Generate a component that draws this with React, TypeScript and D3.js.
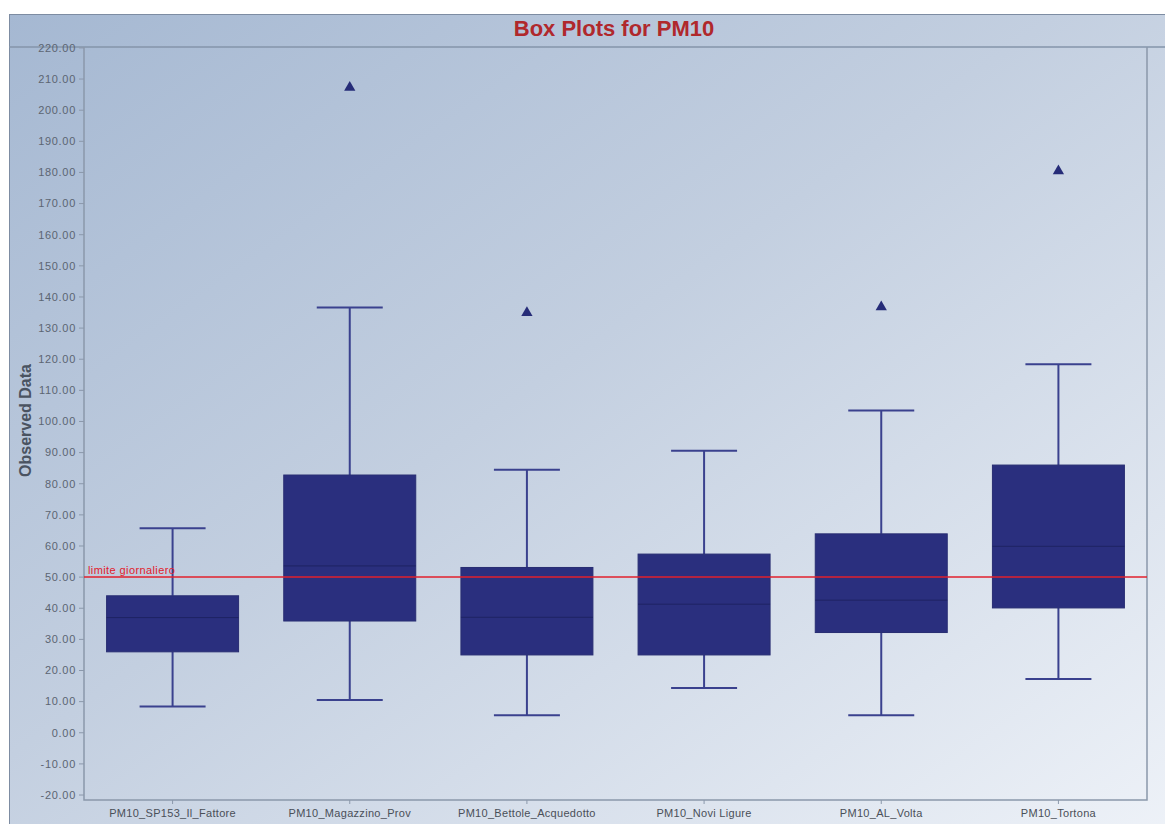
import React from "react";
import * as d3 from "d3";

const categories = [
  "PM10_SP153_Il_Fattore",
  "PM10_Magazzino_Prov",
  "PM10_Bettole_Acquedotto",
  "PM10_Novi Ligure",
  "PM10_AL_Volta",
  "PM10_Tortona",
];
const whiskerLow = [8.4, 10.5, 5.6, 14.4, 5.6, 17.3];
const q1 = [26.0, 35.9, 25.0, 25.0, 32.2, 40.1];
const median = [37.0, 53.6, 37.1, 41.3, 42.6, 59.9];
const q3 = [44.0, 82.8, 53.1, 57.4, 63.9, 86.0];
const whiskerHigh = [65.7, 136.6, 84.5, 90.6, 103.5, 118.4];
const outliers: (number | null)[] = [null, 207.3, 134.9, null, 136.8, 180.5];
const yTicks = d3.range(-20, 221, 10);
const limitValue = 50;
const limitLabel = "limite giornaliero";

const W = 1165;
const H = 824;
const plot = { left: 84, top: 47, right: 1147, bottom: 800 };

export default function App() {
  const x = d3
    .scaleBand<string>()
    .domain(categories)
    .range([plot.left, plot.right])
    .paddingInner(0)
    .paddingOuter(0);
  const y = d3.scaleLinear().domain([-21.6, 220.3]).range([plot.bottom, plot.top]);
  const bw = x.bandwidth();
  const boxW = bw * 0.745;
  const capW = boxW * 0.5;
  const tri = d3.symbol().type(d3.symbolTriangle).size(55);

  return (
    <svg
      width={W}
      height={H}
      style={{ position: "absolute", left: 0, top: 0, display: "block" }}
      fontFamily="Arial, 'Liberation Sans', sans-serif"
    >
      <defs>
        <linearGradient id="bg" x1="0" y1="0" x2="1" y2="1">
          <stop offset="0" stopColor="#a5b8d2" />
          <stop offset="0.45" stopColor="#c3cfe0" />
          <stop offset="1" stopColor="#eef2f8" />
        </linearGradient>
      </defs>
      <rect x={0} y={0} width={W} height={H} fill="#ffffff" />
      <rect x={9.5} y={14.5} width={W} height={H} fill="url(#bg)" stroke="#7d8ca2" strokeWidth={1} />
      <line x1={9} x2={W} y1={47} y2={47} stroke="#8494aa" strokeWidth={1.5} />
      <text
        x={614}
        y={36}
        textAnchor="middle"
        fontSize={22}
        fontWeight="bold"
        fill="#b0282c"
      >
        Box Plots for PM10
      </text>

      {/* plot frame */}
      <path
        d={`M${plot.left},${plot.top} V${plot.bottom} H${plot.right} V${plot.top}`}
        fill="none"
        stroke="#8b98ab"
        strokeWidth={1.5}
      />

      {/* y ticks */}
      {yTicks.map((t) => (
        <g key={t}>
          <line x1={plot.left - 5} x2={plot.left} y1={y(t)} y2={y(t)} stroke="#8b98ab" />
          <text
            x={plot.left - 8}
            y={y(t)}
            dy="0.35em"
            textAnchor="end"
            fontSize={11}
            letterSpacing={0.7}
            fill="#5c6572"
          >
            {t.toFixed(2)}
          </text>
        </g>
      ))}
      <text
        transform={`translate(31,${(plot.top + plot.bottom) / 2 - 3}) rotate(-90)`}
        textAnchor="middle"
        fontSize={16}
        fontWeight="bold"
        fill="#4a5361"
      >
        Observed Data
      </text>

      {/* x ticks */}
      {categories.map((c) => {
        const cx = x(c)! + bw / 2;
        return (
          <g key={c}>
            <line x1={cx} x2={cx} y1={plot.bottom} y2={plot.bottom + 4} stroke="#8b98ab" />
            <text
              x={cx}
              y={plot.bottom + 17}
              textAnchor="middle"
              fontSize={11}
              letterSpacing={0.3}
              fill="#4a4f58"
            >
              {c}
            </text>
          </g>
        );
      })}

      {/* boxes */}
      {categories.map((c, i) => {
        const cx = x(c)! + bw / 2;
        return (
          <g key={c}>
            <line x1={cx} x2={cx} y1={y(whiskerHigh[i])} y2={y(q3[i])} stroke="#3a418e" strokeWidth={2} />
            <line x1={cx} x2={cx} y1={y(q1[i])} y2={y(whiskerLow[i])} stroke="#3a418e" strokeWidth={2} />
            <line
              x1={cx - capW / 2}
              x2={cx + capW / 2}
              y1={y(whiskerHigh[i])}
              y2={y(whiskerHigh[i])}
              stroke="#3a418e"
              strokeWidth={2}
            />
            <line
              x1={cx - capW / 2}
              x2={cx + capW / 2}
              y1={y(whiskerLow[i])}
              y2={y(whiskerLow[i])}
              stroke="#3a418e"
              strokeWidth={2}
            />
            <rect
              x={cx - boxW / 2}
              y={y(q3[i])}
              width={boxW}
              height={y(q1[i]) - y(q3[i])}
              fill="#2a2f7e"
              stroke="#282d72"
              strokeWidth={1}
            />
            <line
              x1={cx - boxW / 2}
              x2={cx + boxW / 2}
              y1={y(median[i])}
              y2={y(median[i])}
              stroke="#1e2363"
              strokeWidth={1}
            />
            {outliers[i] !== null && (
              <path
                d={tri()!}
                transform={`translate(${cx},${y(outliers[i] as number)})`}
                fill="#262c78"
              />
            )}
          </g>
        );
      })}

      {/* limit line */}
      <line
        x1={plot.left}
        x2={plot.right}
        y1={y(limitValue)}
        y2={y(limitValue)}
        stroke="#e2202c"
        strokeWidth={1.5}
      />
      <text
        x={plot.left + 4}
        y={y(limitValue) - 3}
        fontSize={11}
        letterSpacing={0.4}
        fill="#e2202c"
      >
        {limitLabel}
      </text>
    </svg>
  );
}
